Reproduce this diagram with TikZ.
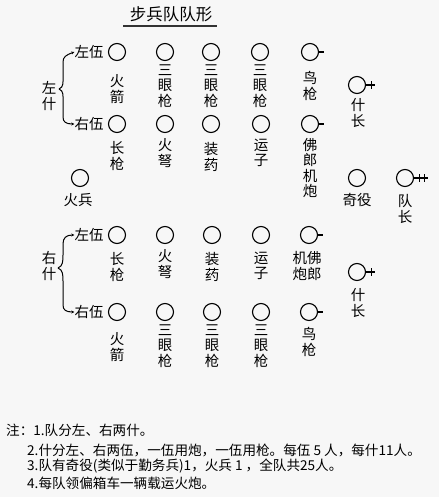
\documentclass[tikz,border=0pt]{standalone}
\usepackage{fontspec}
\usepackage{tikz}
\usetikzlibrary{arrows.meta}
\setmainfont{Noto Sans CJK SC}
\newfontfamily\cjk{Noto Sans CJK SC}

\begin{document}
\begin{tikzpicture}[
                    x=1pt, y=-1pt,
                    >=Stealth,
                    soldier/.style={circle, draw, line width=1.1pt, minimum size=17pt, inner sep=0pt},
                    arm/.style={font=\cjk\fontsize{14.5}{15.5}\selectfont, align=center, inner sep=0pt},
                    rank/.style={font=\cjk\fontsize{14.5}{15}\selectfont, inner sep=0pt},
                    note/.style={font=\cjk\fontsize{13.6}{16}\selectfont, anchor=west, inner sep=0pt},
                    tick/.style={line width=1.1pt}
            ]
                % paper
                \fill [black!3] (0,0) rectangle (439,497);
                \useasboundingbox (0,0) rectangle (439,497);

                % title
                \node [font=\cjk\fontsize{16.5}{18}\selectfont, inner sep=0pt] (title) at (171,14) {步兵队队形};
                \draw [line width=1.8pt, black!80] (123,26) -- (217,26);

                % left shi, left wu
                \node [rank] (lwuA) at (89,52) {左伍};
                \node [soldier] (a1) at (117,52) {};
                \node [soldier] (a2) at (165,52) {};
                \node [soldier] (a3) at (211,52) {};
                \node [soldier] (a4) at (260,52) {};
                \node [soldier] (a5) at (310,52) {};
                \draw [tick] (a5.east) -- +(5,0);
                \node [arm] (ta1) at (117,89) {火\\箭};
                \node [arm] (ta2) at (165,86) {三\\眼\\枪};
                \node [arm] (ta3) at (211,86) {三\\眼\\枪};
                \node [arm] (ta4) at (260,86) {三\\眼\\枪};
                \node [arm] (ta5) at (310,86) {鸟\\枪};

                % left shi, right wu
                \node [rank] (rwuA) at (89,124) {右伍};
                \node [soldier] (b1) at (117,124) {};
                \node [soldier] (b2) at (165,124) {};
                \node [soldier] (b3) at (211,124) {};
                \node [soldier] (b4) at (261,124) {};
                \node [soldier] (b5) at (310,124) {};
                \draw [tick] (b5.east) -- +(5,0);
                \node [arm] (tb1) at (117,156) {长\\枪};
                \node [arm] (tb2) at (165,153) {火\\弩};
                \node [arm] (tb3) at (211,157) {装\\药};
                \node [arm] (tb4) at (261,153) {运\\子};
                \node [arm] (tb5) at (310,168) {佛\\郎\\机\\炮};

                % shizhang (left)
                \node [soldier] (sA) at (357,85) {};
                \draw [tick] (sA.east) -- +(9,0);
                \draw [tick] ([xshift=5pt]sA.east) -- +(0,-4) ([xshift=5pt]sA.east) -- +(0,4);
                \node [arm] (tsA) at (358,113) {什\\长};

                % brace left shi
                \node [arm] (lshi) at (49,96) {左\\什};
                \draw [line width=1pt, -{Stealth[length=3pt,width=3pt]}]
                    (59,89) .. controls (64,87) and (63,82) .. (63,76)
                    -- (63,62) .. controls (63,57) and (66,55) .. (lwuA.west);
                \draw [line width=1pt, -{Stealth[length=3pt,width=3pt]}]
                    (59,89) .. controls (64,91) and (63,96) .. (63,102)
                    -- (63,117) .. controls (63,122) and (66,124) .. (rwuA.west);

                % huobing, qiyi, duizhang
                \node [soldier] (hb) at (80,178) {};
                \node [rank] (thb) at (78,200) {火兵};
                \node [soldier] (qy) at (357,178) {};
                \node [rank] (tqy) at (357,200) {奇役};
                \node [soldier] (dz) at (405,178) {};
                \draw [tick] (dz.east) -- +(14,0);
                \draw [tick] ([xshift=5pt]dz.east) -- +(0,-4) ([xshift=5pt]dz.east) -- +(0,4);
                \draw [tick] ([xshift=10pt]dz.east) -- +(0,-4) ([xshift=10pt]dz.east) -- +(0,4);
                \node [arm] (tdz) at (405,209) {队\\长};

                % right shi, left wu
                \node [rank] (lwuB) at (89,235) {左伍};
                \node [soldier] (c1) at (117,235) {};
                \node [soldier] (c2) at (165,235) {};
                \node [soldier] (c3) at (212,235) {};
                \node [soldier] (c4) at (261,235) {};
                \node [soldier] (c5) at (309,235) {};
                \draw [tick] (c5.east) -- +(5,0);
                \node [arm] (tc1) at (117,267) {长\\枪};
                \node [arm] (tc2) at (165,264) {火\\弩};
                \node [arm] (tc3) at (212,267) {装\\药};
                \node [arm] (tc4) at (261,266) {运\\子};
                \node [arm] (tc5) at (307,266) {机佛\\炮郎};

                % shizhang (right)
                \node [soldier] (sB) at (357,272) {};
                \draw [tick] (sB.east) -- +(9,0);
                \draw [tick] ([xshift=5pt]sB.east) -- +(0,-4) ([xshift=5pt]sB.east) -- +(0,4);
                \node [arm] (tsB) at (358,303) {什\\长};

                % right shi, right wu
                \node [rank] (rwuB) at (89,312) {右伍};
                \node [soldier] (d1) at (117,312) {};
                \node [soldier] (d2) at (165,312) {};
                \node [soldier] (d3) at (212,312) {};
                \node [soldier] (d4) at (261,312) {};
                \node [soldier] (d5) at (309,312) {};
                \draw [tick] (d5.east) -- +(5,0);
                \node [arm] (td1) at (117,347) {火\\箭};
                \node [arm] (td2) at (165,346) {三\\眼\\枪};
                \node [arm] (td3) at (212,346) {三\\眼\\枪};
                \node [arm] (td4) at (261,346) {三\\眼\\枪};
                \node [arm] (td5) at (309,342) {鸟\\枪};

                % brace right shi
                \node [arm] (rshi) at (49,266) {右\\什};
                \draw [line width=1pt, -{Stealth[length=3pt,width=3pt]}]
                    (58,268) .. controls (63,266) and (63,261) .. (63,255)
                    -- (63,244) .. controls (63,238) and (66,235) .. (lwuB.west);
                \draw [line width=1pt, -{Stealth[length=3pt,width=3pt]}]
                    (58,268) .. controls (63,270) and (63,275) .. (63,281)
                    -- (63,305) .. controls (63,310) and (66,312) .. (rwuB.west);

                % notes
                \node [note] (n1) at (6,430) {注：1.队分左、右两什。};
                \node [note] (n2) at (27,450) {2.什分左、右两伍，一伍用炮，一伍用枪。每伍 5 人，每什11人。};
                \node [note] (n3) at (27,466) {3.队有奇役(类似于勤务兵)1，火兵 1 ，全队共25人。};
                \node [note] (n4) at (27,483) {4.每队领偏箱车一辆载运火炮。};
            \end{tikzpicture}
\end{document}
